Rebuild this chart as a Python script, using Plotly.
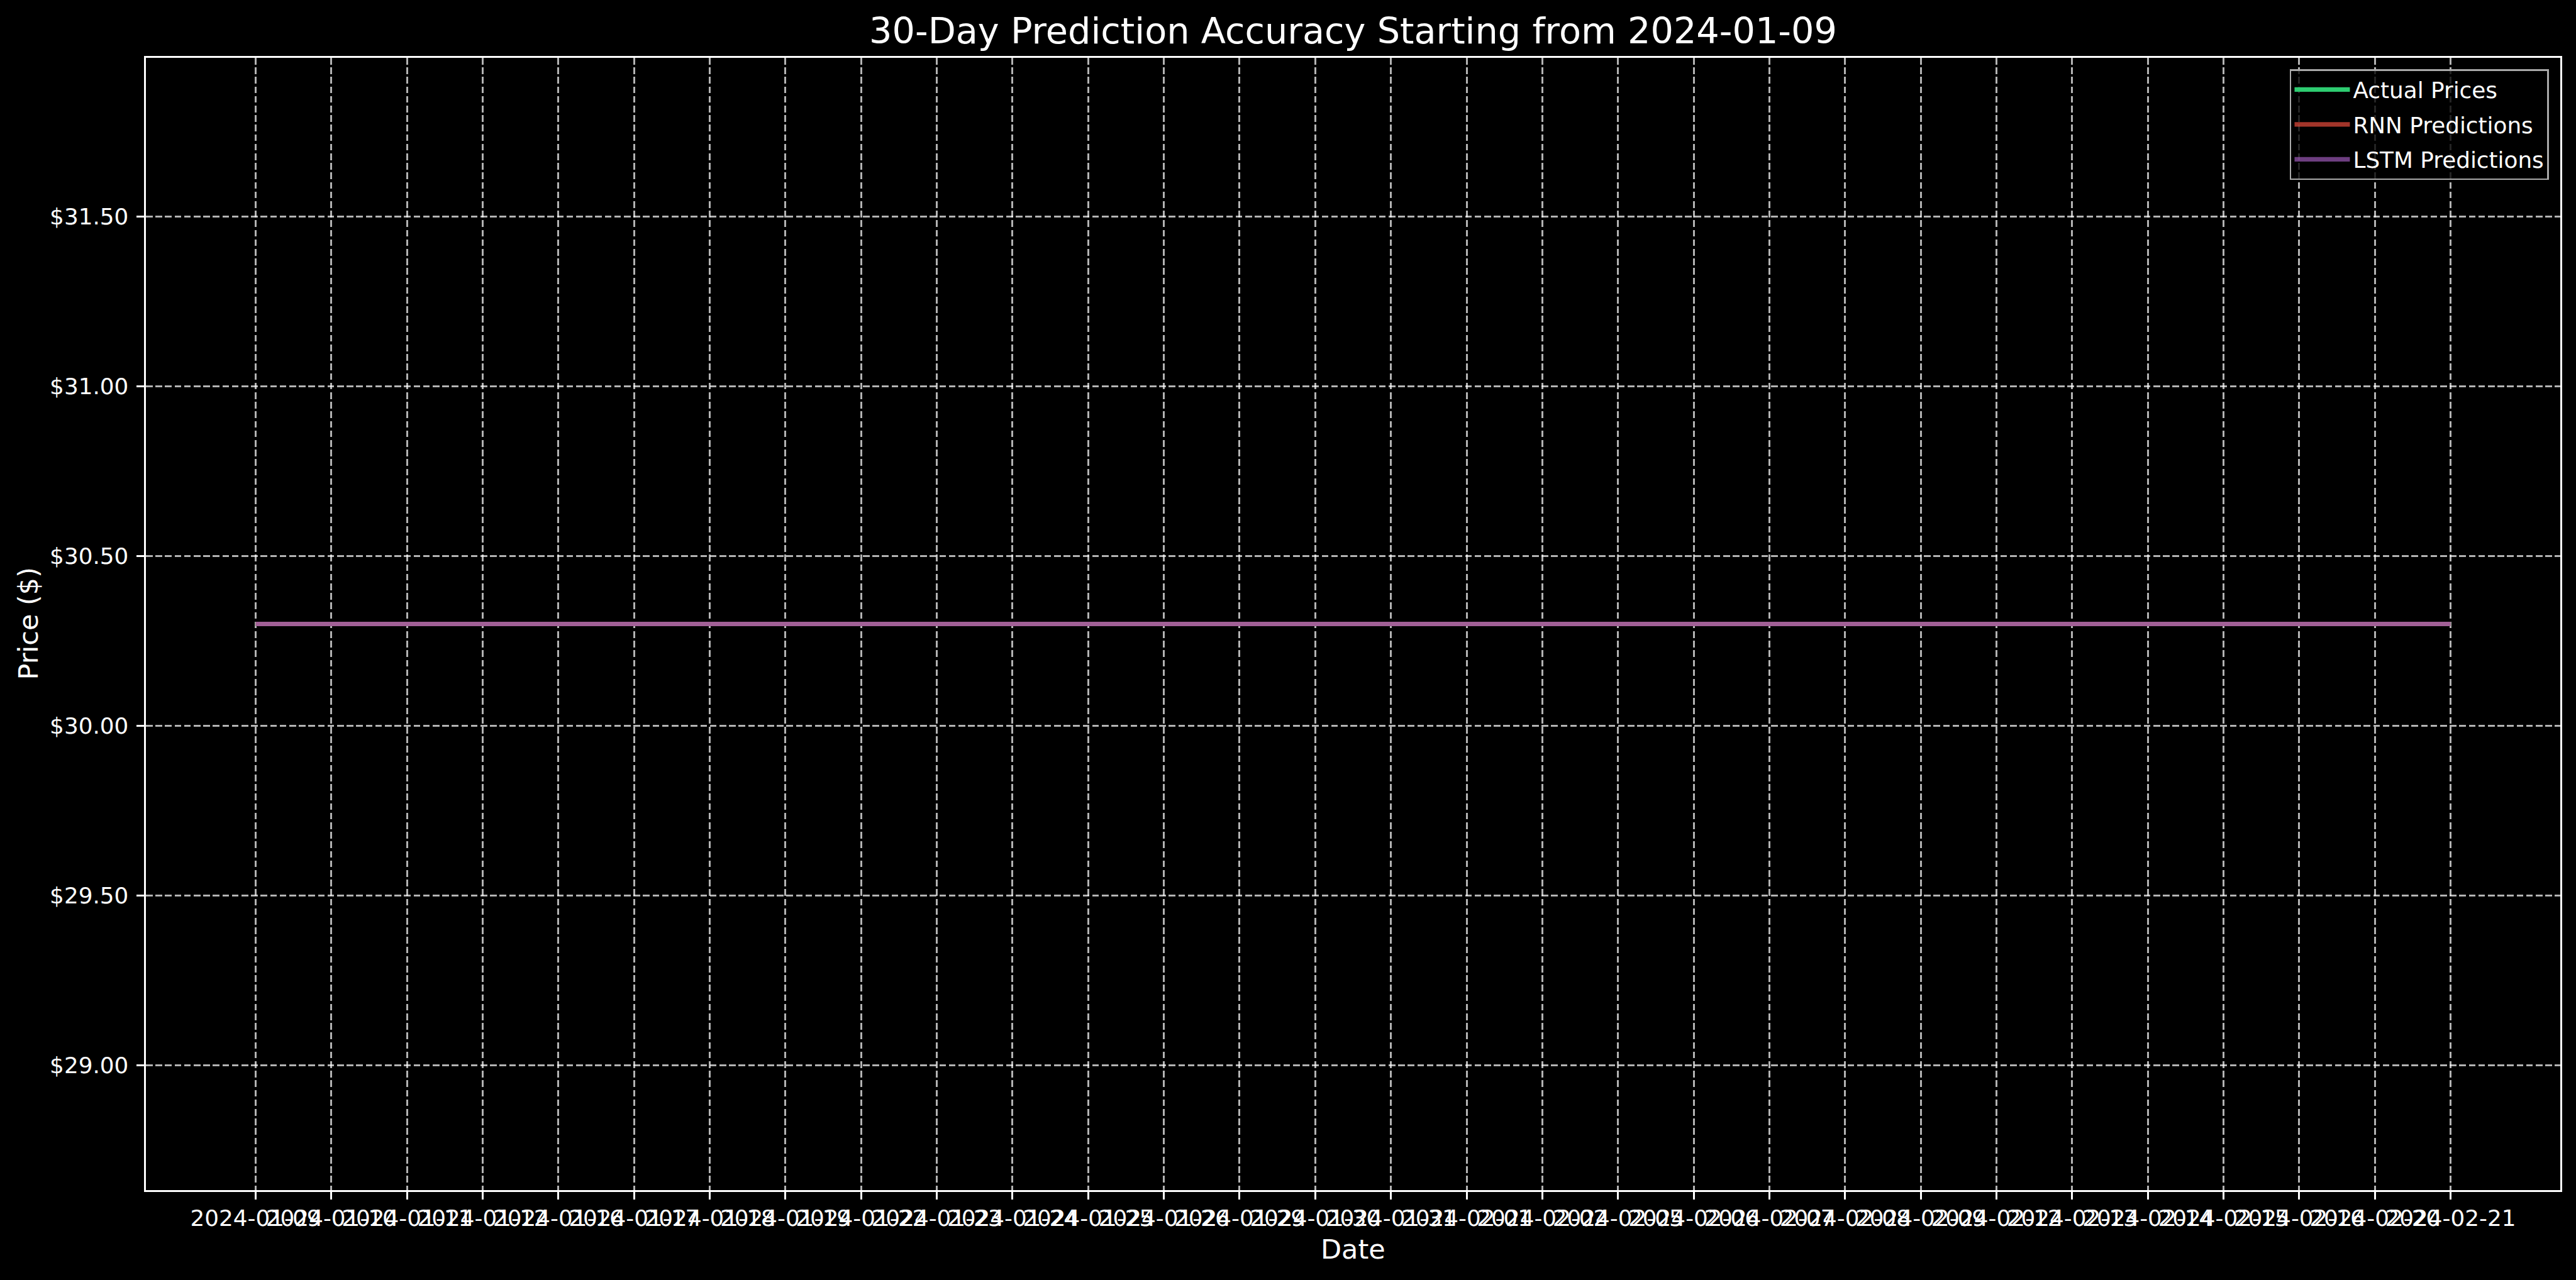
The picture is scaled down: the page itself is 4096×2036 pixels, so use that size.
import plotly.graph_objects as go

dates = ["2024-01-09", "2024-01-10", "2024-01-11", "2024-01-12", "2024-01-16",
         "2024-01-17", "2024-01-18", "2024-01-19", "2024-01-22", "2024-01-23",
         "2024-01-24", "2024-01-25", "2024-01-26", "2024-01-29", "2024-01-30",
         "2024-01-31", "2024-02-01", "2024-02-02", "2024-02-05", "2024-02-06",
         "2024-02-07", "2024-02-08", "2024-02-09", "2024-02-12", "2024-02-13",
         "2024-02-14", "2024-02-15", "2024-02-16", "2024-02-20", "2024-02-21"]
actual_prices = [30.30] * 30
rnn_predictions = [30.30] * 30
lstm_predictions = [30.30] * 30
y_ticks = [29.0, 29.5, 30.0, 30.5, 31.0, 31.5]
y_tick_labels = ["$29.00", "$29.50", "$30.00", "$30.50", "$31.00", "$31.50"]

FONT = "DejaVu Sans"
LW = 7.2

fig = go.Figure()
fig.add_trace(go.Scatter(x=dates, y=actual_prices, mode="lines", name="Actual Prices",
                         line=dict(color="#2ecc71", width=LW), legendgroup="a"))
fig.add_trace(go.Scatter(x=dates, y=rnn_predictions, mode="lines", name="RNN Predictions",
                         line=dict(color="rgba(231,76,60,0.7)", width=LW), legendgroup="b"))
fig.add_trace(go.Scatter(x=dates, y=lstm_predictions, mode="lines", name="LSTM Predictions",
                         line=dict(color="rgba(155,89,182,0.7)", width=LW), legendgroup="c"))

axis_common = dict(
    showline=True, mirror=True, linecolor="white", linewidth=2.9,
    ticks="outside", ticklen=12.5, tickwidth=2.9, tickcolor="white",
    showgrid=True, gridcolor="rgba(255,255,255,0.7)", gridwidth=2.9,
    griddash="10.6px,4.6px", zeroline=False,
    tickfont=dict(family=FONT, size=35.8, color="white"),
)

fig.update_layout(
    width=4096, height=2036,
    paper_bgcolor="black", plot_bgcolor="black",
    margin=dict(l=232, r=25, t=92, b=143),
    font=dict(family=FONT, color="white"),
    title=dict(text="30-Day Prediction Accuracy Starting from 2024-01-09",
               xref="paper", x=0.5, xanchor="center", y=1 - 49 / 2036, yanchor="middle",
               font=dict(family=FONT, size=57.3, color="white")),
    xaxis=dict(type="category", range=[-1.45, 30.45], tickmode="array",
               tickvals=dates, ticktext=dates, tickangle=0,
               ticklabelstandoff=-1, **axis_common),
    yaxis=dict(range=[28.6335, 31.9665], tickmode="array", tickvals=y_ticks,
               ticktext=y_tick_labels, ticklabelstandoff=5, **axis_common),
    legend=dict(x=0.9953, xanchor="right", y=0.990, yanchor="top",
                bgcolor="rgba(0,0,0,0.8)", bordercolor="#aaaaaa", borderwidth=2.5,
                font=dict(family=FONT, size=35.8, color="white"),
                tracegroupgap=6, itemwidth=88),
    showlegend=True,
    annotations=[
        dict(text="Date", xref="paper", yref="paper", x=0.5, y=0, xanchor="center",
             yanchor="middle", yshift=-94, showarrow=False,
             font=dict(family=FONT, size=43, color="white")),
        dict(text="Price ($)", xref="paper", yref="paper", x=0, y=0.5, xanchor="center",
             yanchor="middle", xshift=-188, textangle=-90, showarrow=False,
             font=dict(family=FONT, size=43, color="white")),
    ],
)

fig.write_html("out.html")
